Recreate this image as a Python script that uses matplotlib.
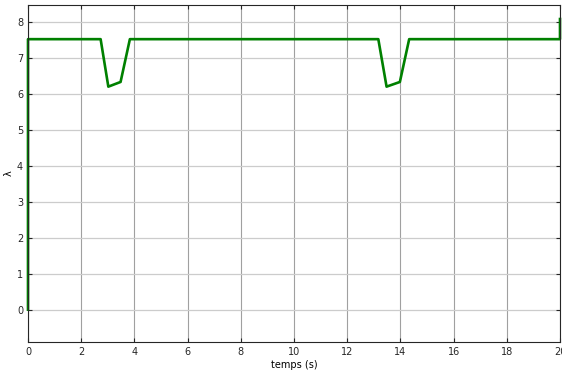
import matplotlib
matplotlib.use('Agg')
import matplotlib.pyplot as plt
import numpy as np

# lambda signal over time
temps = [0, 0.0, 2.73, 3.02, 3.48, 3.83, 13.17, 13.48, 13.98, 14.33, 20.0, 20.0]
lam = [0, 7.52, 7.52, 6.2, 6.33, 7.52, 7.52, 6.2, 6.33, 7.52, 7.52, 8.08]

xticks = np.arange(0, 21, 2)
yticks = np.arange(0, 9, 1)

fig = plt.figure(figsize=(5.62, 3.76), dpi=100)
ax = fig.add_axes([28/562, 34/376, 532/562, 337/376])
ax.plot(temps, np.array(lam, dtype=float), color=(0, 0.5, 0), lw=1.9, clip_on=False)
ax.set_xlim(0, 20)
ax.set_ylim(-0.9, 8.47)
ax.set_xticks(xticks)
ax.set_yticks(yticks)
ax.xaxis.grid(True, color='#a0a0a0', lw=0.8)
ax.yaxis.grid(True, color='#cccccc', lw=0.9)
ax.tick_params(direction='in', labelsize=7, colors='#262626', length=3, top=True, right=True)
for s in ax.spines.values():
    s.set_color('#262626')
    s.set_linewidth(0.8)
ax.set_xlabel('temps (s)', fontsize=7, labelpad=2)
ax.set_ylabel('λ', fontsize=7, labelpad=2)
fig.savefig('out.png', dpi=100)
